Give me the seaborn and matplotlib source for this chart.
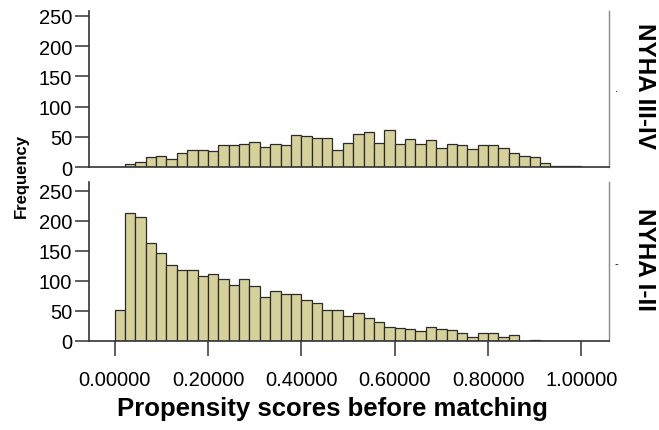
import numpy as np
import pandas as pd
import matplotlib
matplotlib.use("Agg")
import matplotlib.pyplot as plt
import seaborn as sns

sns.set_style("white")
plt.rcParams['font.family'] = ['Liberation Sans', 'DejaVu Sans']
plt.rcParams['text.color'] = 'black'

# =========================
# Data
# =========================
# 45 bins of width 1/45 from 0 to 1
n_bins = 45
bin_centers = (np.arange(n_bins) + 0.5) / n_bins

counts_nyha_3_4 = [0, 5, 9, 17, 19, 14, 23, 29, 28, 26,
                   36, 36, 38, 41, 33, 38, 36, 53, 52, 48,
                   48, 29, 40, 54, 58, 40, 62, 38, 47, 38,
                   44, 32, 39, 36, 30, 37, 37, 31, 23, 19,
                   17, 6, 1, 1, 1]
counts_nyha_1_2 = [51, 214, 207, 163, 146, 127, 118, 119, 109, 112,
                   104, 94, 103, 92, 73, 84, 79, 79, 68, 63,
                   52, 52, 41, 47, 39, 31, 24, 22, 20, 17,
                   23, 20, 18, 13, 7, 14, 14, 6, 10, 0,
                   2, 0, 0, 0, 0]

panel_labels = ['NYHA III-IV', 'NYHA I-II']
y_ticks = [0, 50, 100, 150, 200, 250]
x_ticks = [0.0, 0.2, 0.4, 0.6, 0.8, 1.0]
x_ticklabels = ['0.00000', '0.20000', '0.40000', '0.60000', '0.80000', '1.00000']

bar_color = '#d6d09a'
edge_color = '#2b2b2b'

# =========================
# Figure
# =========================
fig = plt.figure(figsize=(6.59, 4.31), dpi=100)
ax_top = fig.add_axes([0.135, 0.610, 0.789, 0.362])
ax_bot = fig.add_axes([0.135, 0.2065, 0.789, 0.369])

for ax, counts, ymax in [(ax_top, counts_nyha_3_4, 258), (ax_bot, counts_nyha_1_2, 265)]:
    df = pd.DataFrame({'score': bin_centers, 'count': counts})
    sns.histplot(data=df, x='score', weights='count', binwidth=1 / n_bins,
                 binrange=(0, 1), ax=ax, color=bar_color, edgecolor=edge_color,
                 linewidth=0.9, alpha=1)
    ax.set_xlim(-0.055, 1.059)
    ax.set_ylim(0, ymax)
    ax.set_yticks(y_ticks)
    ax.set_ylabel('')
    ax.set_xlabel('')
    ax.tick_params(axis='y', direction='out', length=10, width=1.1,
                   color='#333333', labelcolor='black', labelsize=14.5,
                   pad=2, left=True)
    for side in ['left', 'bottom']:
        ax.spines[side].set_color('#333333')
        ax.spines[side].set_linewidth(1.2)
    ax.spines['right'].set_color('#888888')
    ax.spines['right'].set_linewidth(1.0)
    ax.spines['top'].set_visible(False)

ax_top.set_xticks([])
ax_bot.set_xticks(x_ticks)
ax_bot.set_xticklabels(x_ticklabels)
ax_bot.tick_params(axis='x', direction='out', length=11, width=1.1,
                   color='#333333', labelcolor='black', labelsize=14.5,
                   pad=10, bottom=True)

ax_bot.set_xlabel('Propensity scores before matching', fontsize=18.5,
                  fontweight='bold', labelpad=5, x=0.469, color='black')

fig.text(0.033, 0.592, 'Frequency', rotation=90, fontsize=12,
         fontweight='bold', ha='center', va='center')

fig.text(0.978, 0.800, panel_labels[0], rotation=270, fontsize=17.5,
         fontweight='bold', ha='center', va='center')
fig.text(0.978, 0.397, panel_labels[1], rotation=270, fontsize=17.5,
         fontweight='bold', ha='center', va='center')

# small marks next to the panels
fig.text(0.936, 0.793, '.', fontsize=8, ha='center', va='center')
fig.text(0.936, 0.388, '-', fontsize=8, ha='center', va='center')

plt.savefig('out.png', dpi=100)
